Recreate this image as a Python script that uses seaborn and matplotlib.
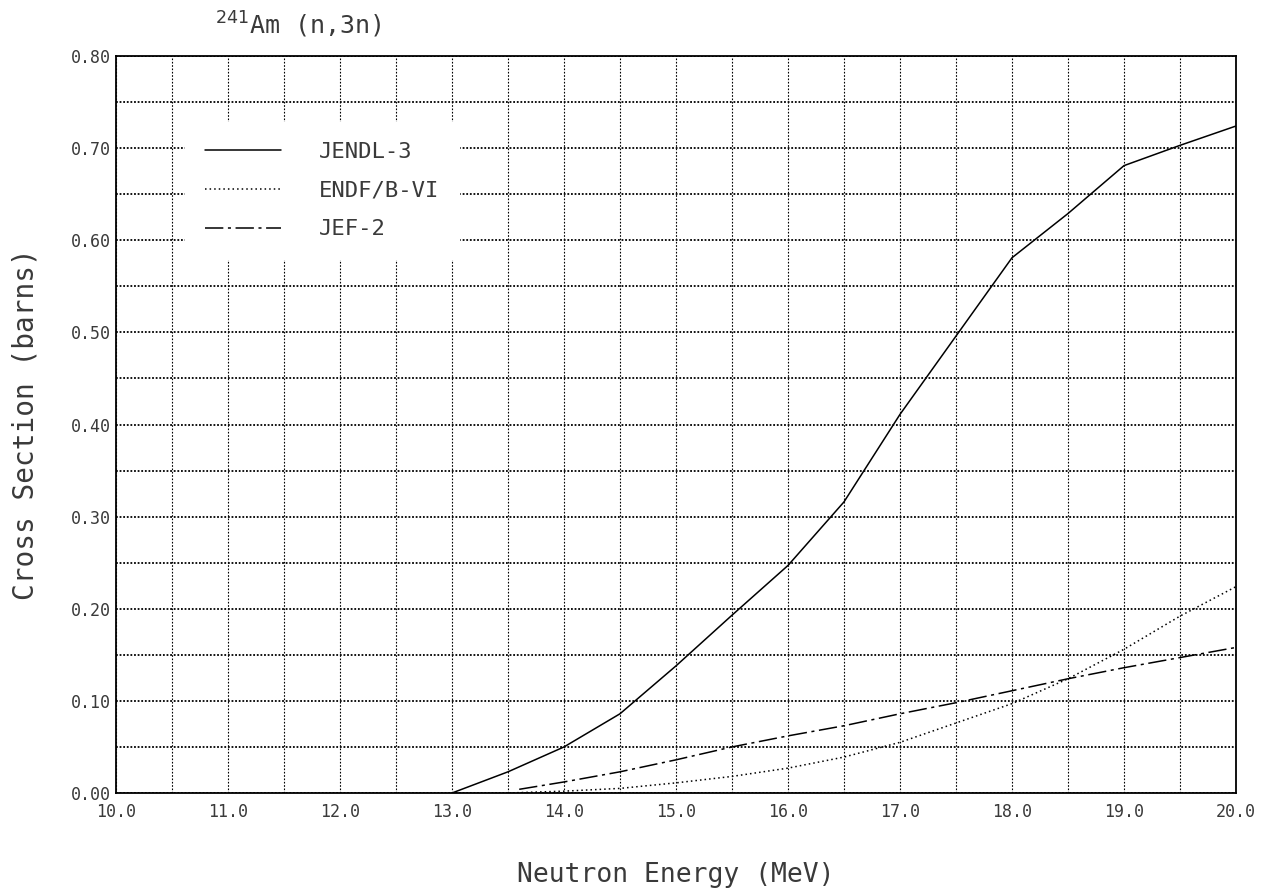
import numpy as np, pandas as pd, matplotlib
matplotlib.use('Agg')
import matplotlib.pyplot as plt
import seaborn as sns
from matplotlib.ticker import MultipleLocator

# values
energy_jendl = [13.0, 13.5, 14.0, 14.5, 15.0, 15.5, 16.0, 16.5, 17.0, 17.5, 18.0, 18.5, 19.0, 19.5, 20.0]
xs_jendl = [0.0, 0.023, 0.050, 0.086, 0.138, 0.193, 0.247, 0.316, 0.411, 0.496, 0.581, 0.629, 0.681, 0.703, 0.724]

energy_endf = [13.5, 14.0, 14.5, 15.0, 15.5, 16.0, 16.5, 17.0, 17.5, 18.0, 18.5, 19.0, 19.5, 20.0]
xs_endf = [0.0, 0.002, 0.005, 0.011, 0.018, 0.027, 0.039, 0.055, 0.076, 0.097, 0.124, 0.156, 0.192, 0.224]

energy_jef = [13.6, 14.0, 14.5, 15.0, 15.5, 16.0, 16.5, 17.0, 17.5, 18.0, 18.5, 19.0, 19.5, 20.0]
xs_jef = [0.004, 0.012, 0.023, 0.036, 0.050, 0.062, 0.073, 0.086, 0.098, 0.111, 0.124, 0.136, 0.147, 0.158]

labels = ['JENDL-3', 'ENDF/B-VI', 'JEF-2']
styles = ['-', (0, (1, 2)), (0, (12, 3, 2, 3))]

sns.set_style('white')
plt.rcParams['font.family'] = ['DejaVu Sans Mono', 'DejaVu Sans']
ink = '#3a3a3a'

fig = plt.figure(figsize=(12.7, 8.89), dpi=100)
ax = fig.add_axes([116 / 1270, 1 - 793 / 889, 1120 / 1270, 737 / 889])

series = [(energy_jendl, xs_jendl), (energy_endf, xs_endf), (energy_jef, xs_jef)]
for (e, xs), lab, ls in zip(series, labels, styles):
    df = pd.DataFrame({'Energy': e, 'XS': xs})
    sns.lineplot(data=df, x='Energy', y='XS', ax=ax, color='black', linewidth=1.1,
                 linestyle=ls, label=lab, legend=False)

ax.set_xlim(10, 20)
ax.set_ylim(0, 0.8)
ax.xaxis.set_major_locator(MultipleLocator(1.0))
ax.xaxis.set_minor_locator(MultipleLocator(0.5))
ax.yaxis.set_major_locator(MultipleLocator(0.1))
ax.yaxis.set_minor_locator(MultipleLocator(0.05))
ax.set_xticklabels([f'{v:.1f}' for v in ax.get_xticks()])
ax.set_yticklabels([f'{v:.2f}' for v in ax.get_yticks()])
ax.tick_params(axis='both', which='both', length=0, labelsize=12, labelcolor=ink)
ax.tick_params(axis='x', pad=7)
ax.tick_params(axis='y', pad=4)

ax.grid(axis='y', which='both', color='black', linestyle=(0, (1, 1)), linewidth=1.3)
ax.grid(axis='x', which='both', color='black', linestyle=(0, (1.5, 1.5)), linewidth=0.8)
ax.set_axisbelow(True)
for sp in ax.spines.values():
    sp.set_linestyle((0, (1, 1)))
    sp.set_linewidth(1.3)
    sp.set_color('black')

ax.set_xlabel('Neutron Energy (MeV)', fontsize=19, color=ink, labelpad=30)
ax.set_ylabel('Cross Section (barns)', fontsize=20, color=ink, labelpad=22)

leg = ax.legend(loc='upper left', bbox_to_anchor=(0.062, 0.911), fontsize=16,
                frameon=True, facecolor='white', edgecolor='white', framealpha=1,
                handlelength=3.4, handletextpad=1.7, labelspacing=0.85,
                borderpad=0.9, borderaxespad=0)
for t in leg.get_texts():
    t.set_color(ink)
leg.get_frame().set_boxstyle('square', pad=0)

fig.text(215 / 1270, 1 - 25 / 889, r'$^{241}$Am (n,3n)', fontsize=18, color=ink,
         ha='left', va='center')

fig.savefig('out.png', dpi=100)
